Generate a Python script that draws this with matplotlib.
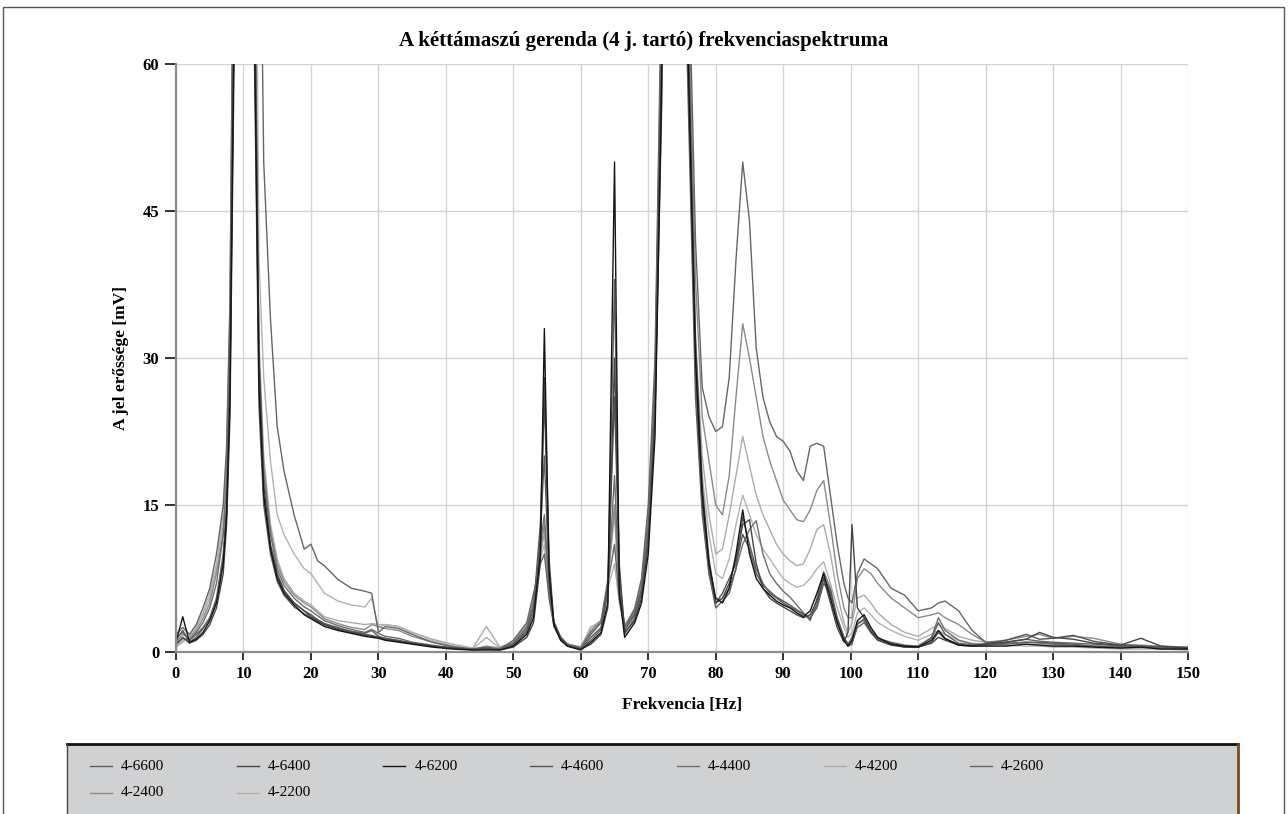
import matplotlib
matplotlib.use("Agg")
import matplotlib.pyplot as plt
from matplotlib.lines import Line2D
from matplotlib.patches import Rectangle

# ---------------- data ----------------
freq = [0, 1, 2, 3, 4, 5, 6, 7, 7.5, 8,
        8.7, 10.5, 11.6, 12.3, 13, 14, 15, 16, 17.5, 19,
        20, 21, 22, 24, 26, 28, 29, 30, 31, 33,
        35, 38, 41, 44, 46, 48, 50, 52, 53, 54,
        54.6, 55.3, 56, 57, 58, 60, 61.5, 63, 64, 65,
        65.7, 66.5, 68, 69, 70, 71, 72, 73.5, 75.5, 77,
        78, 79, 80, 81, 82, 83, 84, 85, 86, 87,
        88, 89, 90, 91, 92, 93, 94, 95, 96, 97,
        98, 99, 99.6, 100.2, 101, 102, 103, 104, 106, 108,
        110, 112, 113, 114, 116, 118, 120, 123, 126, 128,
        130, 133, 136, 140, 143, 146, 150]

s6600 = [1.5, 2.0, 1.2, 1.8, 2.5, 3.5, 5.5, 10, 15, 28,
         75, 200, 62, 25, 15, 10, 7.2, 5.8, 4.6, 3.9,
         3.5, 3.1, 2.8, 2.4, 2.1, 1.9, 2.2, 1.6, 1.4, 1.2,
         0.9, 0.6, 0.4, 0.3, 0.3, 0.3, 0.7, 2.0, 4.0, 12,
         20, 7.0, 2.6, 1.3, 0.7, 0.3, 1.2, 2.3, 6.0, 38,
         7.0, 1.8, 3.5, 6.0, 12, 25, 60, 300, 68, 26,
         14, 8.0, 4.5, 5.2, 6.0, 8.5, 13.8, 11, 8.5, 7.0,
         6.0, 5.5, 5.0, 4.6, 4.2, 3.8, 3.5, 4.5, 7.0, 6.0,
         3.5, 1.5, 0.8, 1.0, 2.5, 3.0, 2.0, 1.3, 0.9, 0.6,
         0.6, 1.4, 3.0, 1.8, 0.9, 0.7, 0.7, 0.8, 1.0, 1.0,
         0.9, 0.8, 0.6, 0.5, 0.6, 0.4, 0.3]

s6400 = [0.8, 1.5, 0.9, 1.2, 1.8, 2.8, 4.5, 8.0, 13, 24,
         66, 200, 70, 30, 17, 11, 8.0, 6.3, 5.0, 4.2,
         3.6, 3.2, 2.8, 2.3, 2.0, 1.7, 1.6, 1.5, 1.3, 1.1,
         0.9, 0.6, 0.4, 0.2, 0.3, 0.2, 0.5, 1.5, 3.0, 9.0,
         28, 9.5, 3.0, 1.4, 0.6, 0.3, 0.8, 1.8, 4.5, 30,
         9.0, 2.0, 3.2, 5.5, 11, 24, 62, 300, 75, 32,
         17, 9.5, 5.0, 5.5, 7.0, 9.5, 13, 13.5, 9.0, 6.5,
         5.5, 5.0, 4.6, 4.2, 3.8, 3.5, 3.8, 5.2, 7.5, 5.0,
         2.5, 1.0, 2.0, 13, 4.5, 3.5, 2.0, 1.2, 0.7, 0.5,
         0.5, 0.9, 1.5, 1.2, 0.7, 0.6, 0.8, 1.0, 1.3, 2.0,
         1.5, 1.3, 0.9, 0.7, 1.4, 0.6, 0.4]

s6200 = [1.0, 3.6, 1.0, 1.3, 2.0, 3.2, 5.0, 9.0, 14, 26,
         70, 200, 65, 27, 16, 10.5, 7.5, 6.0, 4.8, 3.8,
         3.4, 3.0, 2.6, 2.2, 1.9, 1.6, 1.5, 1.4, 1.2, 1.0,
         0.8, 0.5, 0.3, 0.2, 0.2, 0.2, 0.6, 1.8, 3.5, 10,
         33, 8.0, 2.8, 1.2, 0.6, 0.2, 1.0, 2.0, 5.0, 50,
         6.0, 1.5, 3.0, 5.0, 10, 22, 58, 300, 72, 30,
         16, 9.0, 5.5, 5.0, 6.5, 10, 14.5, 10, 7.5, 6.5,
         5.8, 5.2, 4.8, 4.5, 4.0, 3.6, 4.2, 6.0, 8.0, 5.5,
         3.0, 1.2, 0.6, 1.2, 3.2, 3.8, 2.5, 1.5, 0.8, 0.6,
         0.5, 1.2, 2.2, 1.4, 0.7, 0.6, 0.6, 0.6, 0.8, 0.7,
         0.6, 0.6, 0.5, 0.4, 0.5, 0.3, 0.3]

s4600 = [1.2, 2.2, 1.0, 1.5, 2.4, 3.4, 5.2, 9.5, 14, 27,
         72, 200, 68, 28, 16, 10.5, 7.8, 6.2, 5.0, 4.2,
         3.8, 3.3, 2.9, 2.5, 2.1, 1.8, 1.7, 1.5, 1.4, 1.1,
         0.9, 0.6, 0.4, 0.3, 0.4, 0.3, 0.8, 2.2, 4.5, 13,
         26, 8.5, 3.0, 1.4, 0.7, 0.3, 1.5, 2.5, 7.0, 26,
         8.0, 2.2, 3.8, 6.2, 12, 24, 56, 300, 70, 29,
         15, 8.5, 5.0, 6.0, 7.5, 9.0, 12, 10.5, 8.0, 6.8,
         6.2, 5.6, 5.2, 4.8, 4.3, 3.9, 3.4, 4.8, 7.6, 6.2,
         3.2, 1.3, 0.6, 0.8, 2.8, 3.4, 2.2, 1.3, 0.8, 0.5,
         0.5, 1.0, 2.0, 1.3, 0.8, 0.7, 0.8, 1.2, 1.8, 1.3,
         1.4, 1.7, 1.1, 0.7, 0.6, 0.5, 0.4]

s4400 = [0.8, 1.4, 1.2, 2.0, 3.0, 4.5, 7.0, 12, 17, 32,
         80, 200, 75, 30, 18, 12, 8.5, 6.8, 5.5, 4.6,
         4.2, 3.7, 3.2, 2.7, 2.3, 2.0, 2.3, 1.9, 1.6, 1.4,
         1.0, 0.7, 0.4, 0.3, 0.5, 0.3, 0.9, 2.5, 5.0, 11,
         14, 6.5, 2.8, 1.5, 0.8, 0.4, 2.0, 3.0, 6.5, 18,
         6.5, 2.5, 4.0, 6.5, 13, 27, 65, 300, 78, 28,
         15, 8.0, 5.0, 5.5, 6.5, 8.5, 11, 12.5, 13.4, 10,
         8.0, 7.0, 6.2, 5.6, 4.8, 4.0, 3.2, 5.5, 8.2, 6.5,
         3.5, 1.5, 0.8, 1.5, 3.0, 3.2, 2.2, 1.4, 1.0, 0.7,
         0.6, 1.5, 3.5, 2.2, 1.2, 0.8, 0.8, 0.9, 1.0, 0.9,
         0.8, 0.7, 0.6, 0.5, 0.6, 0.5, 0.5]

s4200 = [0.6, 1.2, 1.5, 2.5, 3.8, 5.5, 8.5, 13, 19, 34,
         85, 200, 80, 32, 20, 13, 9.5, 7.5, 6.0, 5.2,
         4.8, 4.2, 3.6, 3.2, 3.0, 2.8, 2.9, 2.8, 2.8, 2.6,
         2.0, 1.3, 0.8, 0.4, 2.6, 0.5, 1.0, 2.8, 5.5, 10,
         12, 6.0, 3.0, 1.6, 0.8, 0.5, 2.5, 3.2, 7.5, 14,
         6.0, 2.8, 4.2, 7.0, 14, 28, 68, 300, 82, 32,
         20, 14, 10, 10.5, 14, 18, 22, 19, 16, 14,
         12.5, 11, 10, 9.3, 8.8, 9.0, 10.5, 12.5, 13, 10,
         6.0, 3.0, 2.0, 3.0, 5.5, 5.8, 5.0, 4.0, 2.8, 2.0,
         1.6, 2.4, 2.8, 2.4, 1.6, 1.2, 1.0, 0.9, 0.8, 0.7,
         0.7, 0.6, 0.5, 0.4, 0.4, 0.3, 0.3]

s2600 = [1.8, 2.5, 1.8, 2.8, 4.5, 6.5, 10, 15, 21, 36,
         90, 200, 150, 90, 50, 34, 23, 18.5, 14, 10.5,
         11, 9.3, 8.8, 7.4, 6.5, 6.2, 6.0, 2.0, 2.6, 2.4,
         1.8, 1.0, 0.5, 0.3, 0.4, 0.3, 1.2, 3.0, 6.0, 9.0,
         10, 5.5, 2.8, 1.5, 0.8, 0.4, 1.8, 3.0, 7.0, 11,
         5.5, 2.5, 4.5, 7.5, 15, 30, 70, 300, 85, 42,
         27, 24, 22.5, 23, 28, 40, 50, 44, 31, 26,
         23.5, 22, 21.5, 20.5, 18.5, 17.5, 21, 21.3, 21, 16,
         11, 7.0, 5.5, 5.0, 8.0, 9.5, 9.0, 8.5, 6.5, 5.8,
         4.2, 4.5, 5.0, 5.2, 4.2, 2.2, 1.0, 1.0, 1.3, 1.1,
         1.0, 0.9, 0.8, 0.6, 0.5, 0.5, 0.4]

s2400 = [1.0, 1.8, 1.4, 2.2, 3.4, 5.0, 8.0, 12, 18, 30,
         78, 200, 72, 30, 19, 12.5, 9.0, 7.2, 5.8, 5.0,
         4.6, 4.0, 3.4, 2.9, 2.5, 2.3, 2.8, 2.6, 2.4, 2.2,
         1.6, 1.0, 0.6, 0.3, 0.6, 0.4, 1.0, 2.6, 5.2, 10,
         13, 6.5, 3.2, 1.5, 0.8, 0.5, 2.2, 3.2, 7.0, 15,
         6.0, 2.6, 4.2, 7.0, 14, 28, 66, 300, 80, 38,
         24, 19.5, 15, 14, 18, 26, 33.5, 30, 26, 22,
         19.5, 17.5, 15.5, 14.5, 13.5, 13.3, 14.5, 16.5, 17.5, 13,
         8.0, 4.5, 3.5, 3.5, 7.5, 8.5, 8.0, 7.0, 5.5, 4.5,
         3.5, 3.8, 4.0, 3.5, 2.8, 1.8, 1.0, 1.2, 1.6, 1.8,
         1.4, 1.6, 1.4, 0.8, 0.7, 0.6, 0.5]

s2200 = [0.5, 1.0, 1.6, 2.6, 4.0, 6.0, 9.0, 14, 20, 35,
         88, 200, 100, 40, 28, 19.5, 14, 12, 10, 8.5,
         8.0, 7.0, 6.0, 5.2, 4.8, 4.6, 5.5, 2.5, 2.8, 2.6,
         2.0, 1.2, 0.6, 0.3, 1.5, 0.4, 0.9, 2.4, 4.8, 9.5,
         11, 5.5, 2.8, 1.5, 0.8, 0.5, 2.6, 3.0, 6.5, 9.0,
         5.0, 2.5, 4.0, 6.8, 13.5, 27, 64, 300, 78, 30,
         18, 12, 8.0, 7.5, 9.5, 13, 16, 14, 12, 10.5,
         9.5, 8.5, 7.5, 7.0, 6.6, 6.8, 7.5, 8.5, 9.2, 7.0,
         4.5, 2.5, 1.5, 2.0, 4.0, 4.5, 3.8, 3.0, 2.2, 1.6,
         1.2, 1.8, 2.2, 1.8, 1.2, 0.9, 0.8, 0.7, 0.6, 0.6,
         0.5, 0.5, 0.4, 0.3, 0.3, 0.3, 0.2]

labels = ["4-6600", "4-6400", "4-6200", "4-4600", "4-4400",
          "4-4200", "4-2600", "4-2400", "4-2200"]
series = [s6600, s6400, s6200, s4600, s4400, s4200, s2600, s2400, s2200]
colors = ["#5e5e5e", "#454545", "#151515", "#555555", "#6e6e6e",
          "#ababab", "#666666", "#8a8a8a", "#b2b2b2"]

x_ticks = list(range(0, 151, 10))
y_ticks = [0, 15, 30, 45, 60]

title = "A kéttámaszú gerenda (4 j. tartó) frekvenciaspektruma"
xlabel = "Frekvencia [Hz]"
ylabel = "A jel erőssége [mV]"

# ---------------- figure ----------------
plt.rcParams['font.family'] = ['Liberation Serif', 'DejaVu Serif']
W, H = 1288, 814
fig = plt.figure(figsize=(W / 100, H / 100), dpi=100)
fig.patch.set_facecolor("white")

# outer frame
fig.patches.append(Rectangle((3 / W, -0.01), 1281 / W, 1 - 7 / H + 0.01,
                             transform=fig.transFigure, fill=False,
                             edgecolor="#555555", linewidth=1.0))

ax = fig.add_axes([176 / W, 1 - 652 / H, (1188 - 176) / W, (652 - 64) / H])
order = [5, 8, 7, 6, 4, 3, 0, 1, 2]  # draw lighter lines first
for i in order:
    ax.plot(freq, series[i], color=colors[i], linewidth=1.0, label=labels[i])

ax.set_xlim(0, 150)
ax.set_ylim(0, 60)
ax.set_xticks(x_ticks)
ax.set_yticks(y_ticks)
ax.grid(True, color="#d4d4d4", linewidth=1.0)
ax.set_axisbelow(True)
for s in ["top", "right"]:
    ax.spines[s].set_visible(False)
for s in ["left", "bottom"]:
    ax.spines[s].set_color("#8c8c8c")
    ax.spines[s].set_linewidth(1.6)
ax.tick_params(axis="both", direction="out", color="#333333", width=1.4,
               labelsize=12)
ax.tick_params(axis="x", length=6, pad=4)
ax.tick_params(axis="y", length=8, pad=4)
for lab in ax.get_xticklabels() + ax.get_yticklabels():
    lab.set_fontweight("bold")

fig.text(0.5, 1 - 41 / H, title, fontsize=15, fontweight="bold",
         ha="center", va="center")
ax.set_xlabel(xlabel, fontsize=12.5, fontweight="bold", labelpad=11)
ax.set_ylabel(ylabel, fontsize=12.5, fontweight="bold", labelpad=10)

# legend box
box_x0, box_x1, box_y0 = 67, 1238, 744
fig.patches.append(Rectangle((box_x0 / W, 0), (box_x1 - box_x0) / W,
                             1 - box_y0 / H, transform=fig.transFigure,
                             facecolor="#d0d1d3", edgecolor="none"))
fig.add_artist(Line2D([box_x0 / W, box_x1 / W], [1 - box_y0 / H] * 2,
                      transform=fig.transFigure, color="#111111", lw=2))
fig.add_artist(Line2D([box_x1 / W] * 2, [0, 1 - box_y0 / H],
                      transform=fig.transFigure, color="#7a4a1a", lw=2))
fig.add_artist(Line2D([box_x0 / W] * 2, [0, 1 - box_y0 / H],
                      transform=fig.transFigure, color="#444444", lw=1))

# legend entries, row-major, 7 per row
ncol = 7
for i, (lab, col) in enumerate(zip(labels, colors)):
    r, c = divmod(i, ncol)
    x0 = 90 + 146.7 * c
    yy = 1 - (766 + 27 * r) / H
    fig.add_artist(Line2D([x0 / W, (x0 + 22) / W], [yy, yy],
                          transform=fig.transFigure, color=col, lw=1.0))
    fig.text((x0 + 31) / W, yy, lab, fontsize=11, va="center", ha="left")

fig.savefig("out.png", dpi=100, facecolor="white")
